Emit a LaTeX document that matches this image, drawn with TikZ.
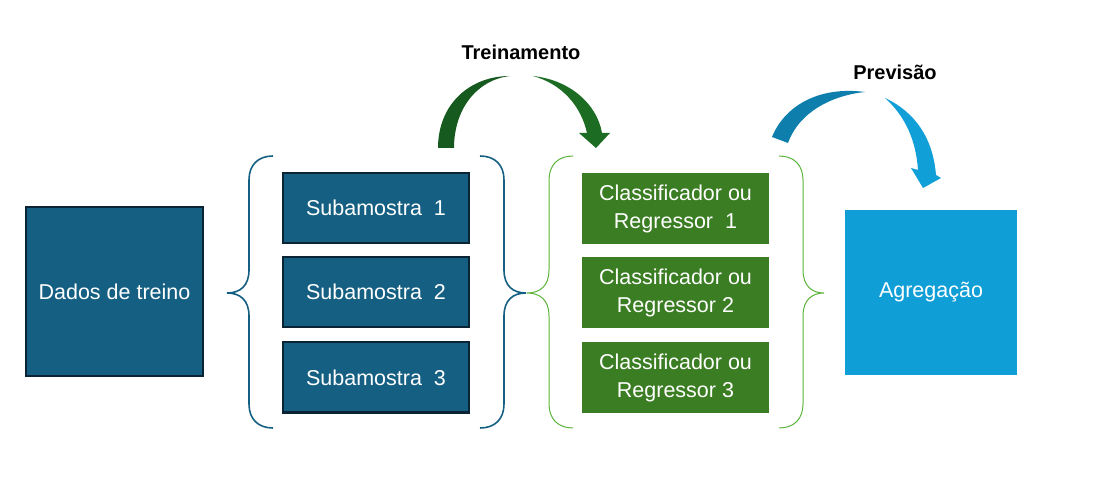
\documentclass[tikz,border=0pt]{standalone}
\usepackage{fontspec}
\setmainfont{Liberation Sans}
\definecolor{bluebox}{HTML}{156082}
\definecolor{blueedge}{HTML}{0B2435}
\definecolor{greenbox}{HTML}{3B7D23}
\definecolor{greenbrace}{HTML}{5CB33A}
\definecolor{aggbox}{HTML}{0F9ED5}
\definecolor{trainA}{HTML}{175A20}
\definecolor{trainB}{HTML}{1C6C23}
\definecolor{predA}{HTML}{0E7FAC}
\definecolor{predB}{HTML}{119FD8}
\begin{document}
\begin{tikzpicture}[x=1pt,y=-1pt,
  boxtext/.style={text=white,font=\fontsize{21.5}{28}\selectfont,align=center,inner sep=0pt},
  bluebx/.style={boxtext,fill=bluebox,draw=blueedge,line width=2pt},
  greenbx/.style={boxtext,fill=greenbox},
  aggbx/.style={boxtext,fill=aggbox},
  bluebrace/.style={draw=bluebox,line width=1.6pt},
  greenbr/.style={draw=greenbrace,line width=1pt},
  title/.style={font=\fontsize{20}{24}\selectfont\bfseries,inner sep=0pt}]
\useasboundingbox (0,0) rectangle (1093,494);
\fill[white] (0,0) rectangle (1093,494);

% boxes
\node[bluebx,minimum width=177pt,minimum height=169pt] (dados) at (114.5,291.5) {Dados de treino};
\node[bluebx,minimum width=186pt,minimum height=70pt] (s1) at (376,208) {Subamostra~ 1};
\node[bluebx,minimum width=186pt,minimum height=70pt] (s2) at (376,292) {Subamostra~ 2};
\node[bluebx,minimum width=186pt,minimum height=70pt] (s3) at (376,377.5) {Subamostra~ 3};
\node[greenbx,minimum width=187pt,minimum height=71pt] (c1) at (675.5,208.5) {Classificador ou\\Regressor~ 1};
\node[greenbx,minimum width=187pt,minimum height=71pt] (c2) at (675.5,292.5) {Classificador ou\\Regressor 2};
\node[greenbx,minimum width=187pt,minimum height=71pt] (c3) at (675.5,377.5) {Classificador ou\\Regressor 3};
\node[aggbx,minimum width=172pt,minimum height=165pt] (agg) at (931,292.5) {Agrega\c{c}\~ao};

% titles
\node[title] (treino) at (521,52) {Treinamento};
\node[title] (prev) at (895,72) {Previs\~ao};

% braces
\draw[bluebrace] (273,156) .. controls (258,156) and (249,165) .. (249,180)
  -- (249,270) .. controls (249,286) and (240,293) .. (227,293)
  .. controls (240,293) and (249,300) .. (249,316)
  -- (249,404) .. controls (249,419) and (258,428) .. (273,428);
\draw[bluebrace] (480,156) .. controls (495,156) and (504,165) .. (504,180)
  -- (504,270) .. controls (504,286) and (513,293) .. (526,293)
  .. controls (513,293) and (504,300) .. (504,316)
  -- (504,404) .. controls (504,419) and (495,428) .. (480,428);
\draw[greenbr] (573,156) .. controls (558,156) and (549,165) .. (549,180)
  -- (549,270) .. controls (549,286) and (540,293) .. (527,293)
  .. controls (540,293) and (549,300) .. (549,316)
  -- (549,404) .. controls (549,419) and (558,428) .. (573,428);
\draw[greenbr] (779,156) .. controls (794,156) and (803,165) .. (803,180)
  -- (803,270) .. controls (803,286) and (812,293) .. (824,293)
  .. controls (812,293) and (803,300) .. (803,316)
  -- (803,404) .. controls (803,419) and (794,428) .. (779,428);

% Treinamento arrow
\fill[trainA] (438,148) .. controls (438,104) and (470,76) .. (510,76)
  .. controls (476,80) and (454,110) .. (454,148) -- cycle;
\fill[trainB] (533,76) .. controls (570,80) and (597,104) .. (602,133)
  -- (610,133) -- (596,148) -- (579,133) -- (587,133)
  .. controls (581,106) and (562,84) .. (533,76) -- cycle;

% Previsao arrow
\fill[predA] (772,137) .. controls (785,105) and (820,86) .. (865,92)
  .. controls (835,95) and (800,110) .. (788,143) -- cycle;
\fill[predB] (885,98) .. controls (915,112) and (933,138) .. (936,175)
  -- (941,178) -- (923,188) -- (911,168) -- (918,170)
  .. controls (916,140) and (905,116) .. (885,98) -- cycle;
\end{tikzpicture}
\end{document}
